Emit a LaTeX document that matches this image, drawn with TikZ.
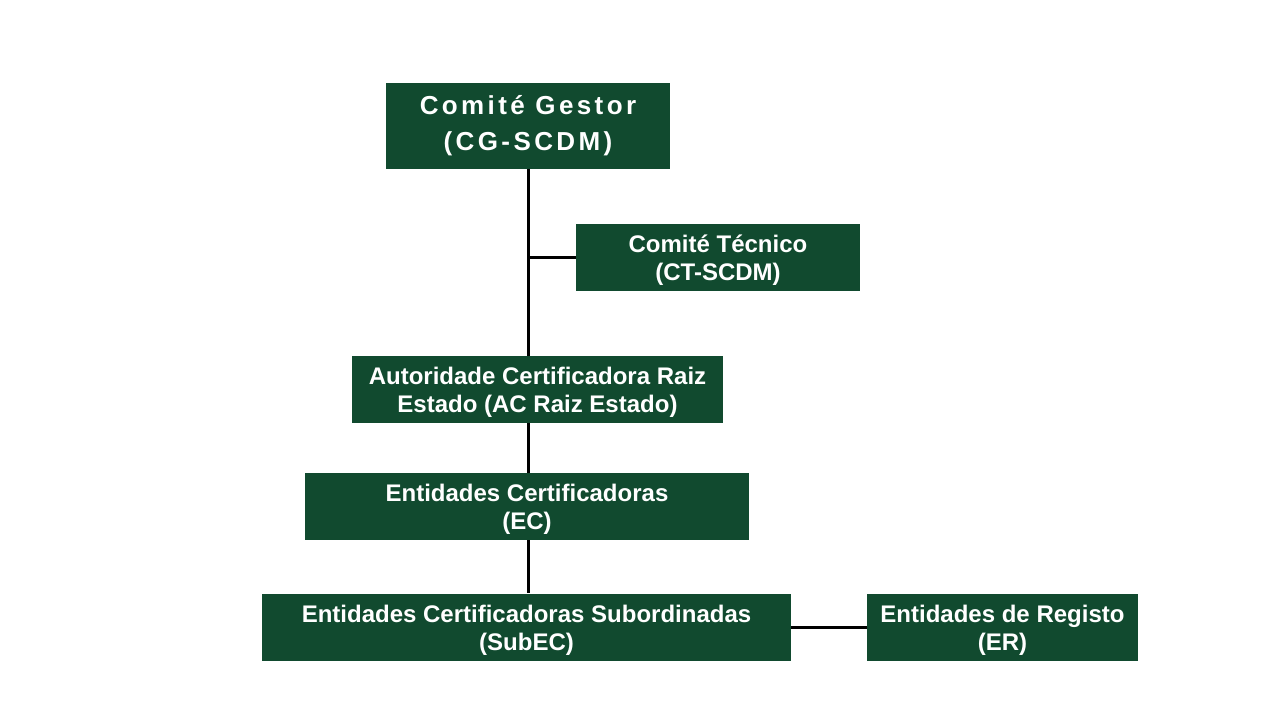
\documentclass[tikz,border=0pt]{standalone}
\usepackage{fontspec}
\setmainfont{Liberation Sans}
\newfontfamily\largofont[LetterSpace=13]{Liberation Sans}
\definecolor{verdeSCDM}{RGB}{17,74,47}
\newcommand\topo{\rule{0pt}{23pt}}
\begin{document}
\begin{tikzpicture}[x=1pt,y=-1pt,
  caixa/.style={fill=verdeSCDM, text=white, align=center, inner sep=0pt,
    minimum height=67pt, font=\bfseries\fontsize{24}{28}\selectfont},
  liga/.style={line width=3pt}]

  \useasboundingbox (0,0) rectangle (1280,720);

  % caixas
  \node[caixa, minimum width=284pt, minimum height=86pt,
    font=\largofont\bfseries\fontsize{26}{36}\selectfont] (cg) at (528,126)
    {Comité Gestor\\(CG-SCDM)};
  \node[caixa, minimum width=284pt] (ct) at (718,257) {\topo Comité Técnico\\(CT-SCDM)};
  \node[caixa, minimum width=371pt] (ac) at (537.5,389.5)
    {\topo Autoridade Certificadora Raiz\\Estado (AC Raiz Estado)};
  \node[caixa, minimum width=444pt] (ec) at (527,506.5)
    {\topo Entidades Certificadoras\\(EC)};
  \node[caixa, minimum width=529pt] (sub) at (526.5,627)
    {\topo Entidades Certificadoras Subordinadas\\(SubEC)};
  \node[caixa, minimum width=271pt] (er) at (1002.5,627)
    {\topo Entidades de Registo\\(ER)};

  % ligacoes
  \draw[liga] (cg.south) -- (cg.south |- ac.north);
  \draw[liga] (cg.south |- ct.west) -- (ct.west);
  \draw[liga] (cg.south |- ac.south) -- (cg.south |- ec.north);
  \draw[liga] (cg.south |- ec.south) -- (cg.south |- sub.north);
  \draw[liga] (sub.east) -- (er.west);

\end{tikzpicture}
\end{document}
